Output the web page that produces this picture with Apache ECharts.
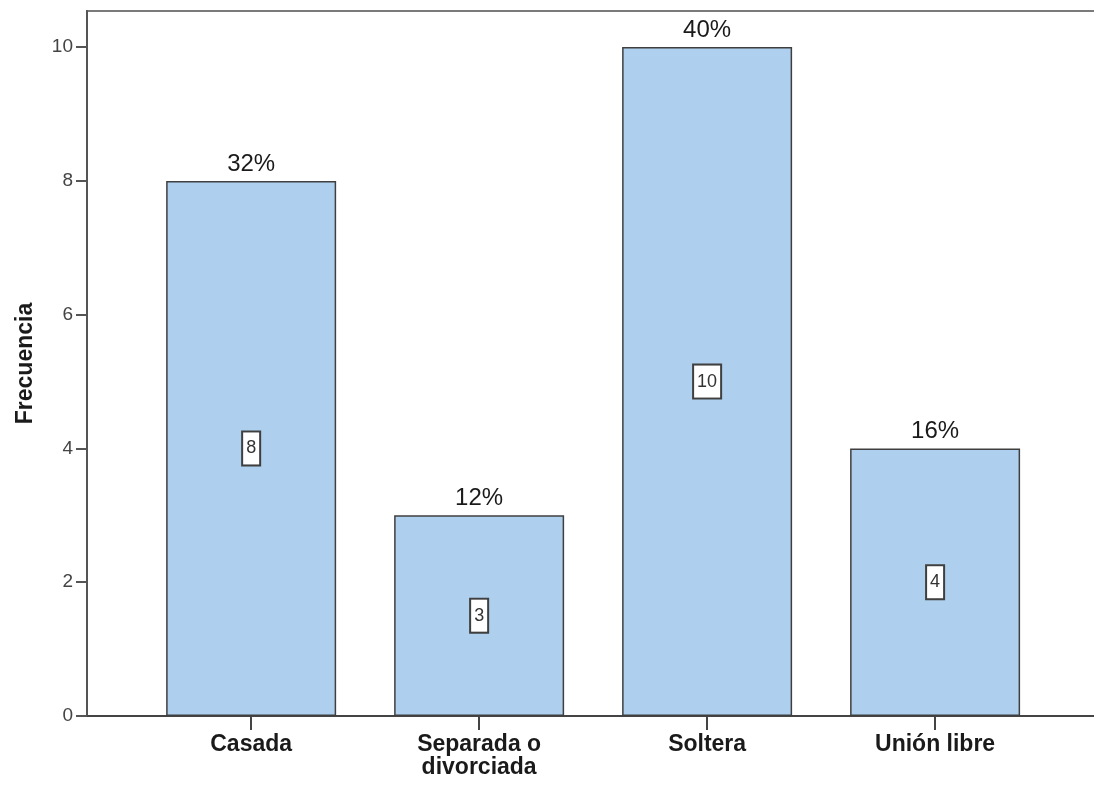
<!DOCTYPE html>
<html>
<head>
	<meta charset="utf-8">
	<title>Frecuencia por estado civil</title>
	<script src="https://cdn.jsdelivr.net/npm/echarts@6/dist/echarts.min.js"></script>
</head>
<body style="margin:0">
	<div id="main" style="width: 1094px;height: 792px"></div>
	<script type="text/javascript">
		// datos
		var categories = ['Casada', 'Separada o\ndivorciada', 'Soltera', 'Unión libre'];
		var counts = [8, 3, 10, 4];
		var percents = [32, 12, 40, 16];
		var yTicks = [0, 2, 4, 6, 8, 10];

		var positions = categories.map(function (c, i) { return i; });
		var barData = counts.map(function (v, i) { return [i, v]; });

		var myChart = echarts.init(document.getElementById('main'));
		var option = {
			backgroundColor: '#ffffff',
			animation: false,
			grid: {
				left: 87,
				top: 11,
				bottom: 76,
				width: 1020,
				outerBoundsMode: 'none',
				containLabel: false,
				show: true,
				borderColor: '#7a7a7a',
				borderWidth: 2
			},
			xAxis: {
				type: 'value',
				min: -0.72,
				max: 3.754,
				splitLine: {show: false},
				axisLine: {lineStyle: {color: '#444', width: 2}},
				axisTick: {
					customValues: positions,
					length: 14,
					lineStyle: {color: '#444', width: 2}
				},
				axisLabel: {
					customValues: positions,
					margin: 17,
					fontFamily: 'Liberation Sans',
					fontWeight: 'bold',
					fontSize: 23,
					lineHeight: 23,
					color: '#1a1a1a',
					formatter: function (v) { return categories[Math.round(v)]; }
				}
			},
			yAxis: {
				type: 'value',
				min: 0,
				max: 10.54,
				name: 'Frecuencia',
				nameLocation: 'middle',
				nameGap: 50,
				nameTextStyle: {
					fontFamily: 'Liberation Sans',
					fontWeight: 'bold',
					fontSize: 23,
					color: '#1a1a1a'
				},
				splitLine: {show: false},
				axisLine: {show: true, onZero: false, lineStyle: {color: '#555', width: 2}},
				axisTick: {
					show: true,
					customValues: yTicks,
					length: 11,
					lineStyle: {color: '#555', width: 2}
				},
				axisLabel: {
					customValues: yTicks,
					margin: 14,
					fontFamily: 'Liberation Sans',
					fontSize: 19,
					color: '#444'
				}
			},
			series: [
				{
					name: 'Frecuencia',
					type: 'bar',
					data: barData,
					barWidth: 170,
					itemStyle: {
						color: '#aed0ee',
						borderColor: '#3f3f3f',
						borderWidth: 1.5
					},
					label: {
						show: true,
						position: 'inside',
						formatter: function (p) { return counts[p.dataIndex]; },
						fontFamily: 'Liberation Sans',
						fontSize: 18,
						color: '#333',
						backgroundColor: '#ffffff',
						borderColor: '#3f3f3f',
						borderWidth: 2,
						padding: [8, 3, 6, 3]
					}
				},
				{
					name: 'Porcentaje',
					type: 'scatter',
					data: barData,
					symbolSize: 0,
					silent: true,
					itemStyle: {opacity: 1},
					label: {
						show: true,
						position: 'top',
						distance: 5,
						formatter: function (p) { return percents[p.dataIndex] + '%'; },
						fontFamily: 'Liberation Sans',
						fontSize: 24,
						color: '#1a1a1a'
					}
				}
			]
		};
		myChart.setOption(option);
	</script>
</body>
</html>
